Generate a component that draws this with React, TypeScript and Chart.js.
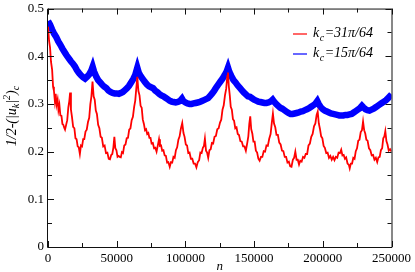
import React, { useEffect, useRef } from "react";
import { Chart, registerables } from "chart.js";

Chart.register(...registerables);

const X_TICKS = [0, 50000, 100000, 150000, 200000, 250000];
const Y_TICKS = [0, 0.1, 0.2, 0.3, 0.4, 0.5];
const SERIES_LABELS = ["31π/64", "15π/64"];

const redN = [
  0, 800, 1500, 2200, 3000, 3700, 4300, 5000, 5600, 6200, 7000, 7600, 8300, 9000, 9800, 10500, 11200, 11800, 12400, 13200,
  14000, 14800, 15500, 16100, 16700, 17400, 18300, 19200, 20000, 20800, 21600, 22400, 23200, 24000, 24800, 25600, 26400,
  27300, 28200, 29100, 30000, 30800, 31600, 32400, 33200, 34000, 34800, 35600, 36500, 37400, 38300, 39200, 40200, 41200,
  42200, 43200, 44200, 45100, 46000, 46800, 47600, 48300, 49000, 49800, 50600, 51400, 52200, 53000, 53800, 54600, 55500,
  56400, 57300, 58200, 59100, 60000, 60900, 61800, 62700, 63500, 64300, 65000, 65800, 66600, 67400, 68200, 69000, 69800,
  70600, 71400, 72200, 73000, 73800, 74600, 75400, 76300, 77200, 78100, 79000, 80000, 80800, 81500, 82300, 83100, 84000,
  84900, 85800, 86700, 87600, 88600, 89500, 90400, 91300, 92200, 93100, 94000, 94900, 95800, 96700, 97700, 98600, 99400,
  100300, 101200, 102100, 103000, 104000, 105000, 106000, 107000, 108000, 109000, 110000, 110900, 111800, 112700, 113500,
  114200, 115000, 115800, 116600, 117500, 118400, 119300, 120200, 121200, 122200, 123200, 124200, 125200, 126100, 127000,
  127900, 128800, 129700, 130500, 131000, 131600, 132300, 133000, 133800, 134600, 135400, 136300, 137200, 138100, 139000,
  140000, 141000, 142000, 143000, 144000, 145000, 145800, 146500, 147200, 147900, 148700, 149500, 150400, 151300, 152200,
  153100, 154000, 155000, 156000, 157000, 158000, 159000, 160000, 161000, 162000, 162900, 163700, 164500, 165400, 166300,
  167300, 168300, 169300, 170300, 171300, 172300, 173300, 174300, 175300, 176300, 177200, 178200, 179100, 180000, 180900,
  181800, 182700, 183600, 184600, 185600, 186600, 187600, 188600, 189600, 190600, 191600, 192600, 193600, 194600, 195500,
  196300, 197100, 197900, 198800, 199700, 200600, 201500, 202500, 203500, 204500, 205500, 206500, 207500, 208500, 209500,
  210500, 211500, 212500, 213400, 214300, 215200, 216100, 217000, 218000, 219000, 219600, 220400, 221300, 222200, 223100,
  224000, 224900, 225800, 226700, 227600, 228500, 229300, 230100, 230900, 231700, 232600, 233600, 234600, 235600, 236600,
  237600, 238600, 239600, 240500, 241400, 242300, 243200, 244000, 244800, 245500, 246300, 247100, 248000, 249000, 250000,
];
const redV = [
  0.462, 0.432, 0.418, 0.388, 0.372, 0.336, 0.328, 0.306, 0.321, 0.298, 0.309, 0.287, 0.298, 0.276, 0.275, 0.258, 0.256, 0.25, 0.246, 0.256,
  0.266, 0.293, 0.306, 0.324, 0.288, 0.274, 0.252, 0.249, 0.228, 0.226, 0.211, 0.209, 0.195, 0.213, 0.211, 0.226, 0.226,
  0.242, 0.246, 0.262, 0.271, 0.299, 0.316, 0.347, 0.316, 0.309, 0.286, 0.279, 0.256, 0.249, 0.231, 0.229, 0.211, 0.213,
  0.197, 0.198, 0.185, 0.184, 0.193, 0.195, 0.209, 0.231, 0.207, 0.203, 0.189, 0.191, 0.189, 0.188, 0.199, 0.197, 0.213,
  0.215, 0.228, 0.229, 0.246, 0.249, 0.266, 0.273, 0.294, 0.307, 0.334, 0.357, 0.327, 0.318, 0.296, 0.292, 0.267, 0.258,
  0.245, 0.247, 0.237, 0.239, 0.229, 0.229, 0.217, 0.218, 0.207, 0.208, 0.2, 0.214, 0.226, 0.212, 0.213, 0.202, 0.203,
  0.192, 0.191, 0.177, 0.178, 0.168, 0.178, 0.177, 0.189, 0.187, 0.203, 0.209, 0.225, 0.232, 0.248, 0.26, 0.239, 0.231,
  0.215, 0.213, 0.197, 0.198, 0.185, 0.185, 0.175, 0.175, 0.167, 0.178, 0.182, 0.198, 0.197, 0.208, 0.212,
  0.227, 0.202, 0.198, 0.187, 0.203, 0.205, 0.218, 0.217, 0.231, 0.233, 0.247, 0.249, 0.261, 0.267, 0.288,
  0.297, 0.318, 0.332, 0.358, 0.366, 0.337, 0.318, 0.294, 0.288, 0.268, 0.265, 0.249, 0.251, 0.237, 0.235,
  0.222, 0.221, 0.211, 0.211, 0.202, 0.218, 0.232, 0.258, 0.274, 0.247, 0.238, 0.221, 0.221, 0.202, 0.198,
  0.185, 0.181, 0.189, 0.189, 0.201, 0.2, 0.213, 0.212, 0.227, 0.237, 0.261, 0.28, 0.259, 0.251, 0.235,
  0.235, 0.219, 0.215, 0.202, 0.201, 0.189, 0.189, 0.177, 0.179, 0.169, 0.168, 0.183, 0.187, 0.2, 0.183,
  0.183, 0.173, 0.181, 0.179, 0.189, 0.187, 0.195, 0.195, 0.213, 0.217, 0.231, 0.237, 0.253, 0.259, 0.277,
  0.284, 0.259, 0.248, 0.232, 0.228, 0.212, 0.208, 0.197, 0.198, 0.187, 0.191, 0.183, 0.189, 0.182, 0.189,
  0.187, 0.198, 0.197, 0.204, 0.192, 0.193, 0.185, 0.188, 0.175, 0.172, 0.165, 0.175, 0.175, 0.187, 0.185,
  0.201, 0.207, 0.223, 0.225, 0.241, 0.245, 0.263, 0.245, 0.238, 0.225, 0.223, 0.207, 0.203, 0.192, 0.193,
  0.183, 0.187, 0.178, 0.188, 0.189, 0.203, 0.207, 0.228, 0.232, 0.243, 0.222, 0.215, 0.202, 0.205, 0.2,
];

const blueN = [
  0, 1500, 3000, 4500, 6000, 7500, 9000, 10500, 12000, 13500, 15000, 16500, 18000, 19500, 21000, 22500, 24000, 25500,
  27000, 28500, 30000, 31500, 32500, 33500, 35000, 36500, 38000, 39500, 41000, 42500, 44000, 45500, 47000, 48500, 50000,
  51500, 53000, 54500, 56000, 57500, 59000, 60500, 62000, 63500, 65000, 66000, 67500, 69000, 70500, 72000, 73500, 75000,
  76500, 78000, 79500, 81000, 82500, 84000, 85500, 87000, 88500, 90000, 91500, 93000, 94500, 96000, 97500, 98500, 100000,
  101500, 103000, 104500, 106000, 107500, 109000, 110500, 112000, 113500, 115000, 116500, 118000, 119500, 121000, 122500,
  124000, 125500, 127000, 128500, 130000, 131000, 132000, 133500, 135000, 136500, 138000, 139500, 141000, 142500, 144000,
  145500, 147000, 148500, 150000, 151500, 153000, 154500, 156000, 157500, 159000, 160500, 162000, 163500, 164500, 166000,
  167500, 169000, 170500, 172000, 173500, 175000, 176500, 178000, 179500, 181000, 182500, 184000, 185500, 187000, 188500,
  190000, 191500, 193000, 194500, 196000, 197000, 198500, 200000, 201500, 203000, 204500, 206000, 207500, 209000, 210500,
  212000, 213500, 215000, 216500, 218000, 219500, 221000, 222500, 224000, 225500, 227000, 228500, 229500, 231000, 232500,
  234000, 235500, 237000, 238500, 240000, 241500, 243000, 244500, 246000, 247500, 249000, 250000,
];
const blueV = [
  0.474, 0.466, 0.456, 0.447, 0.44, 0.431, 0.424, 0.416, 0.409, 0.402, 0.396, 0.39, 0.385, 0.379, 0.371, 0.365, 0.36, 0.356,
  0.353, 0.357, 0.362, 0.37, 0.378, 0.368, 0.358, 0.35, 0.345, 0.34, 0.336, 0.333, 0.328, 0.325, 0.323, 0.322, 0.322,
  0.321, 0.323, 0.325, 0.329, 0.333, 0.338, 0.345, 0.352, 0.361, 0.376, 0.366, 0.358, 0.352, 0.346, 0.341, 0.337, 0.335,
  0.333, 0.328, 0.325, 0.321, 0.318, 0.316, 0.313, 0.31, 0.307, 0.305, 0.304, 0.303, 0.304, 0.306, 0.311, 0.306, 0.303,
  0.301, 0.3, 0.3, 0.301, 0.302, 0.303, 0.304, 0.306, 0.308, 0.31, 0.312, 0.317, 0.322, 0.328, 0.335,
  0.341, 0.347, 0.353, 0.36, 0.368, 0.376, 0.367, 0.358, 0.35, 0.345, 0.339, 0.334, 0.329, 0.324, 0.32,
  0.316, 0.315, 0.312, 0.309, 0.307, 0.305, 0.304, 0.303, 0.302, 0.302, 0.303, 0.305, 0.309, 0.305, 0.3,
  0.296, 0.292, 0.29, 0.287, 0.284, 0.281, 0.279, 0.279, 0.28, 0.281, 0.282, 0.284, 0.285, 0.287, 0.289,
  0.291, 0.294, 0.297, 0.3, 0.306, 0.3, 0.293, 0.289, 0.286, 0.284, 0.282, 0.28, 0.279, 0.278, 0.277,
  0.276, 0.276, 0.276, 0.277, 0.277, 0.278, 0.279, 0.282, 0.285, 0.288, 0.291, 0.296, 0.293, 0.289, 0.287,
  0.286, 0.288, 0.29, 0.293, 0.296, 0.299, 0.302, 0.305, 0.308, 0.312, 0.317, 0.32,
];

const SERIF = '"Liberation Serif", "DejaVu Serif", serif';
const RED = "rgb(255,0,0)";
const BLUE = "rgb(0,0,255)";

const decorPlugin = {
  id: "decor",
  afterDatasetsDraw(chart: any) {
    const { ctx, chartArea, scales } = chart;
    const { left, right, top, bottom } = chartArea;
    const xs = scales.x;
    const ys = scales.y;
    ctx.save();
    // frame
    ctx.strokeStyle = "#111";
    ctx.lineWidth = 1;
    ctx.beginPath();
    ctx.rect(left - 0.5, top + 0.5, right - left + 1, bottom - top);
    ctx.stroke();
    // ticks
    const major = 6;
    const minor = 4;
    ctx.beginPath();
    X_TICKS.forEach((v, i) => {
      const px = Math.round(xs.getPixelForValue(v)) + 0.5;
      ctx.moveTo(px, bottom);
      ctx.lineTo(px, bottom - major);
      ctx.moveTo(px, top);
      ctx.lineTo(px, top + major);
      if (i < X_TICKS.length - 1) {
        const m = Math.round(xs.getPixelForValue((v + X_TICKS[i + 1]) / 2)) + 0.5;
        ctx.moveTo(m, bottom);
        ctx.lineTo(m, bottom - minor);
        ctx.moveTo(m, top);
        ctx.lineTo(m, top + minor);
      }
    });
    Y_TICKS.forEach((v, i) => {
      const py = Math.round(ys.getPixelForValue(v)) + 0.5;
      ctx.moveTo(left, py);
      ctx.lineTo(left + major, py);
      ctx.moveTo(right, py);
      ctx.lineTo(right - major, py);
      if (i < Y_TICKS.length - 1) {
        const m = Math.round(ys.getPixelForValue((v + Y_TICKS[i + 1]) / 2)) + 0.5;
        ctx.moveTo(left, m);
        ctx.lineTo(left + minor, m);
        ctx.moveTo(right, m);
        ctx.lineTo(right - minor, m);
      }
    });
    ctx.stroke();

    // legend
    const colors = [RED, BLUE];
    const rows = [34, 54];
    SERIES_LABELS.forEach((lab, i) => {
      const y = rows[i];
      ctx.strokeStyle = colors[i];
      ctx.lineWidth = 1.2;
      ctx.beginPath();
      ctx.moveTo(293, y);
      ctx.lineTo(307, y);
      ctx.stroke();
      ctx.fillStyle = "#000";
      ctx.textBaseline = "alphabetic";
      ctx.textAlign = "left";
      const base = y + 3;
      let cx = 313;
      ctx.font = `italic 14px ${SERIF}`;
      ctx.fillText("k", cx, base);
      cx += ctx.measureText("k").width + 0.5;
      ctx.font = `italic 10px ${SERIF}`;
      ctx.fillText("c", cx, base + 4);
      cx += ctx.measureText("c").width + 0.5;
      ctx.font = `italic 14px ${SERIF}`;
      ctx.fillText("=" + lab, cx, base);
    });

    // x title
    ctx.font = `italic 13px ${SERIF}`;
    ctx.textAlign = "center";
    ctx.textBaseline = "alphabetic";
    ctx.fillStyle = "#000";
    ctx.fillText("n", (left + right) / 2, 270);

    // y title (rotated)
    const parts: [string, number, number][] = [
      ["1/2-(|u", 14, 0],
      ["k", 10, 3],
      ["|", 14, 0],
      ["2", 10, -6],
      [")", 14, 0],
      ["c", 10, 3],
    ];
    let total = 0;
    parts.forEach(([t, s]) => {
      ctx.font = `italic ${s}px ${SERIF}`;
      total += ctx.measureText(t).width;
    });
    ctx.translate(16, 116);
    ctx.rotate(-Math.PI / 2);
    ctx.textAlign = "left";
    let tx = -total / 2;
    parts.forEach(([t, s, dy]) => {
      ctx.font = `italic ${s}px ${SERIF}`;
      ctx.fillText(t, tx, dy);
      tx += ctx.measureText(t).width;
    });
    ctx.restore();
  },
};

export default function App() {
  const ref = useRef<HTMLCanvasElement | null>(null);
  useEffect(() => {
    if (!ref.current) return;
    const red = redN.map((n, i) => ({ x: n, y: redV[i] }));
    const blue = blueN.map((n, i) => ({ x: n, y: blueV[i] }));
    const chart = new Chart(ref.current, {
      type: "line",
      data: {
        datasets: [
          { label: "k_c=" + SERIES_LABELS[0], data: red, borderColor: RED, borderWidth: 1.8, pointRadius: 0, tension: 0 },
          { label: "k_c=" + SERIES_LABELS[1], data: blue, borderColor: BLUE, borderWidth: 6.5, pointRadius: 0, tension: 0 },
        ],
      },
      options: {
        animation: false,
        responsive: false,
        devicePixelRatio: 1,
        layout: { padding: { top: 5, right: 23, left: 0, bottom: 0 } },
        plugins: { legend: { display: false }, tooltip: { enabled: false } },
        scales: {
          x: {
            type: "linear",
            min: 0,
            max: 250000,
            afterBuildTicks: (s: any) => {
              s.ticks = X_TICKS.map((v) => ({ value: v }));
            },
            ticks: {
              autoSkip: false,
              maxRotation: 0,
              padding: 4,
              color: "#000",
              font: { family: SERIF, size: 13 },
              callback: (v: any) => String(v),
            },
            grid: { display: false, drawTicks: false },
            border: { display: false },
            afterFit: (s: any) => {
              s.height = 25;
            },
          },
          y: {
            type: "linear",
            min: 0,
            max: 0.5,
            afterBuildTicks: (s: any) => {
              s.ticks = Y_TICKS.map((v) => ({ value: v }));
            },
            ticks: {
              padding: 4,
              color: "#000",
              font: { family: SERIF, size: 13, lineHeight: 0.7 },
              callback: (v: any) => (v === 0 ? "0" : Number(v).toFixed(1)),
            },
            grid: { display: false, drawTicks: false },
            border: { display: false },
            afterFit: (s: any) => {
              s.width = 48;
            },
          },
        },
      },
      plugins: [decorPlugin],
    });
    return () => chart.destroy();
  }, []);
  return (
    <div style={{ position: "absolute", left: 0, top: 0, width: 415, height: 272, background: "#fff" }}>
      <canvas ref={ref} width={415} height={272} style={{ display: "block" }} />
    </div>
  );
}
